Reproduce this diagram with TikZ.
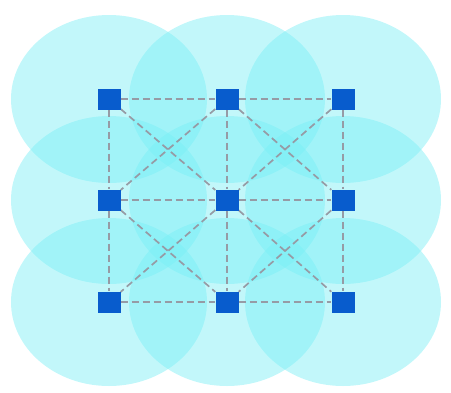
\documentclass[tikz,border=0pt]{standalone}
\usetikzlibrary{backgrounds}
\begin{document}
\begin{tikzpicture}[x=1pt,y=-1pt,
  cell/.style={fill={rgb,255:red,120;green,238;blue,245},fill opacity=0.45,draw=none},
  sensor/.style={fill={rgb,255:red,8;green,92;blue,205},draw=none,minimum width=23pt,minimum height=21pt,inner sep=0pt},
  link/.style={draw={rgb,255:red,150;green,155;blue,165},line width=1.7pt,dash pattern=on 7pt off 4pt}]
\useasboundingbox (0,0) rectangle (451,392);
\node[sensor] (a1) at (109,99) {};
\node[sensor] (a2) at (227,99) {};
\node[sensor] (a3) at (343,99) {};
\node[sensor] (b1) at (109,200) {};
\node[sensor] (b2) at (227,200) {};
\node[sensor] (b3) at (343,200) {};
\node[sensor] (c1) at (109,302) {};
\node[sensor] (c2) at (227,302) {};
\node[sensor] (c3) at (343,302) {};
\begin{pgfonlayer}{background}
\foreach \n in {a1,a2,a3,b1,b2,b3,c1,c2,c3}{
  \fill[cell] (\n.center) ellipse [x radius=98, y radius=84];
}
\foreach \u/\v in {a1/a2,a2/a3,b1/b2,b2/b3,c1/c2,c2/c3,a1/b1,b1/c1,a2/b2,b2/c2,a3/b3,b3/c3,a1/b2,a2/b1,a2/b3,a3/b2,b1/c2,b2/c1,b2/c3,b3/c2}{
  \draw[link] (\u) -- (\v);
}
\end{pgfonlayer}
\end{tikzpicture}
\end{document}
